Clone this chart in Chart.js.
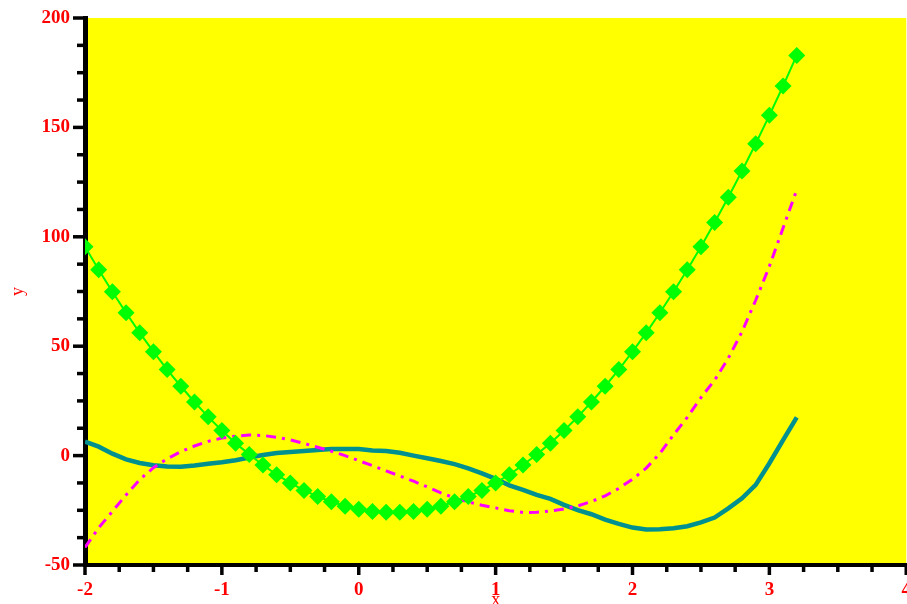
<!DOCTYPE html>
<html>
<head>
<meta charset="utf-8">
<script src="https://cdn.jsdelivr.net/npm/chart.js@4"></script>
<style>
  html, body { margin: 0; padding: 0; background: #fff; overflow: hidden; }
  #wrap { position: relative; width: 917px; height: 604px; }
</style>
</head>
<body>
<div id="wrap"><canvas id="plot"></canvas></div>
<script>
var xValues = [-2, -1.9, -1.8, -1.7, -1.6, -1.5, -1.4, -1.3, -1.2, -1.1, -1, -0.9, -0.8, -0.7, -0.6, -0.5, -0.4, -0.3, -0.2, -0.1,
  0, 0.1, 0.2, 0.3, 0.4, 0.5, 0.6, 0.7, 0.8, 0.9, 1, 1.1, 1.2, 1.3, 1.4, 1.5, 1.6, 1.7, 1.8, 1.9,
  2, 2.1, 2.2, 2.3, 2.4, 2.5, 2.6, 2.7, 2.8, 2.9, 3, 3.1, 3.2];

var greenValues = [95.5, 84.9, 74.9, 65.3, 56.1, 47.5, 39.3, 31.7, 24.5, 17.7, 11.5, 5.7, 0.5, -4.3, -8.7, -12.5, -15.9, -18.7, -21.1, -23.1,
  -24.5, -25.5, -25.9, -25.9, -25.5, -24.5, -23.1, -21.1, -18.7, -15.9, -12.5, -8.7, -4.3, 0.5, 5.7, 11.5, 17.7, 24.5, 31.7, 39.3,
  47.5, 56.1, 65.3, 74.9, 84.9, 95.5, 106.5, 118.1, 130.1, 142.5, 155.5, 168.9, 182.9];

var tealValues = [6.4, 4.1, 0.9, -1.7, -3.4, -4.4, -5.0, -5.1, -4.5, -3.7, -3.0, -2.1, -0.9, 0.3, 1.2, 1.6, 2.1, 2.6, 3.0, 3.0,
  3.0, 2.3, 2.1, 1.3, 0.0, -1.2, -2.5, -3.9, -5.8, -8.1, -10.6, -13.6, -15.7, -18.0, -19.8, -22.5, -24.9, -26.8, -29.3, -31.2,
  -32.9, -33.8, -33.7, -33.2, -32.3, -30.5, -28.3, -24.1, -19.5, -13.4, -3.5, 7.1, 17.5];

var magentaValues = [-42, -33, -25.5, -18, -11, -5.5, -1.5, 1.8, 4.4, 6.5, 8.0, 8.9, 9.4, 9.2, 8.4, 7.2, 5.6, 3.8, 2.0, 0.0,
  -2.3, -4.6, -7.0, -9.3, -11.7, -14.3, -17.0, -19.4, -21.2, -22.7, -23.9, -25.2, -26.0, -25.9, -25.3, -24.4, -23.0, -21.0, -18.4, -15.0,
  -10.8, -5.7, 1.0, 9.5, 17.5, 26.5, 34.5, 44.5, 56.6, 71.0, 86.5, 104.0, 121.5];

var xMajorTicks = [-2, -1, 0, 1, 2, 3, 4];
var yMajorTicks = [-50, 0, 50, 100, 150, 200];

function points(ys) {
  return xValues.map(function(x, i) { return { x: x, y: ys[i] }; });
}

var serif = "'Liberation Serif', 'Times New Roman', serif";

var plotBackground = {
  id: "plotBackground",
  beforeDraw: function(chart) {
    var a = chart.chartArea, ctx = chart.ctx;
    ctx.save();
    ctx.fillStyle = "#ffff00";
    ctx.fillRect(a.left, a.top, a.right - a.left, a.bottom - a.top);
    ctx.restore();
  }
};

// outward ticks, longer ones at the labelled values
var axisTicks = {
  id: "axisTicks",
  afterDraw: function(chart) {
    var a = chart.chartArea, ctx = chart.ctx;
    var xs = chart.scales.x, ys = chart.scales.y;
    ctx.save();
    ctx.strokeStyle = "#000";
    ctx.lineWidth = 3.5;
    ys.ticks.forEach(function(t) {
      var py = ys.getPixelForValue(t.value);
      var len = yMajorTicks.indexOf(t.value) >= 0 ? 12 : 8;
      ctx.beginPath(); ctx.moveTo(a.left - len, py); ctx.lineTo(a.left, py); ctx.stroke();
    });
    xs.ticks.forEach(function(t) {
      var px = xs.getPixelForValue(t.value);
      var len = xMajorTicks.indexOf(t.value) >= 0 ? 10 : 7;
      ctx.beginPath(); ctx.moveTo(px, a.bottom); ctx.lineTo(px, a.bottom + len); ctx.stroke();
    });
    ctx.restore();
  }
};

var ctx = document.getElementById("plot").getContext("2d");

var chart = new Chart(ctx, {
  type: "line",
  data: {
    datasets: [
      {
        label: "green",
        data: points(greenValues),
        borderColor: "#00ff00",
        backgroundColor: "#00ff00",
        borderWidth: 2,
        pointStyle: "rectRot",
        pointRadius: 8.5,
        pointBorderWidth: 0,
        pointBackgroundColor: "#00ff00",
        tension: 0
      },
      {
        label: "magenta",
        data: points(magentaValues),
        borderColor: "#ff00ff",
        borderWidth: 3,
        borderDash: [10, 6, 3, 6],
        pointRadius: 0,
        tension: 0
      },
      {
        label: "teal",
        data: points(tealValues),
        borderColor: "#009090",
        borderWidth: 4.5,
        pointRadius: 0,
        tension: 0
      }
    ]
  },
  options: {
    responsive: true,
    maintainAspectRatio: false,
    animation: false,
    layout: { padding: { top: 18, left: 0, right: 0, bottom: 0 } },
    plugins: { legend: { display: false }, tooltip: { enabled: false } },
    scales: {
      x: {
        type: "linear",
        min: -2,
        max: 4,
        afterFit: function(s) { s.height = 39; },
        border: { display: true, color: "#000", width: 4 },
        grid: { drawOnChartArea: false, drawTicks: true, tickLength: 8, tickColor: "transparent" },
        ticks: {
          stepSize: 0.25,
          autoSkip: false,
          maxRotation: 0,
          padding: 6,
          color: "#ff0000",
          font: { family: serif, size: 19, weight: "bold" },
          callback: function(v) { return xMajorTicks.indexOf(v) >= 0 ? String(v) : ""; }
        },
        title: {
          display: true,
          text: "x",
          color: "#ff0000",
          font: { family: serif, size: 18, lineHeight: 1 },
          padding: { top: 0, bottom: -5 }
        }
      },
      y: {
        type: "linear",
        min: -50,
        max: 200,
        afterFit: function(s) { s.width = 85; },
        border: { display: true, color: "#000", width: 5 },
        grid: { drawOnChartArea: false, drawTicks: true, tickLength: 12, tickColor: "transparent" },
        ticks: {
          stepSize: 12.5,
          autoSkip: false,
          padding: 3,
          color: "#ff0000",
          font: { family: serif, size: 19, weight: "bold" },
          callback: function(v) { return yMajorTicks.indexOf(v) >= 0 ? String(v) : ""; }
        },
        title: {
          display: true,
          text: "y",
          color: "#ff0000",
          font: { family: serif, size: 18, lineHeight: 1 },
          padding: { top: 9, bottom: 0 }
        }
      }
    }
  },
  plugins: [plotBackground, axisTicks]
});
</script>
</body>
</html>
